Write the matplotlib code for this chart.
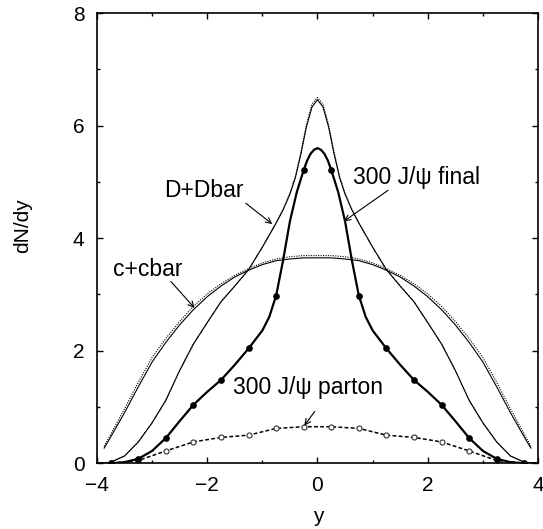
import matplotlib
matplotlib.use('Agg')
import matplotlib.pyplot as plt
import numpy as np

plt.rcParams['font.family'] = ['Liberation Sans', 'DejaVu Sans']

# D + Dbar (thin solid, with a dotted twin)
dd_x = [-3.85, -3.75, -3.5, -3.25, -3.0, -2.75, -2.5, -2.25, -2.0, -1.75, -1.5, -1.25, -1.0, -0.75, -0.625, -0.5, -0.4, -0.3, -0.2, -0.1, 0.0,
        0.1, 0.2, 0.3, 0.4, 0.5, 0.625, 0.75, 1.0, 1.25, 1.5, 1.75, 2.0, 2.25, 2.5, 2.75, 3.0, 3.25, 3.5, 3.75, 3.85]
dd_y = [0.0, 0.02, 0.13, 0.38, 0.72, 1.12, 1.65, 2.12, 2.5, 2.87, 3.15, 3.44, 3.84, 4.27, 4.5, 4.78, 5.08, 5.5, 5.98, 6.33, 6.46,
        6.33, 5.98, 5.5, 5.08, 4.78, 4.5, 4.27, 3.84, 3.44, 3.15, 2.87, 2.5, 2.12, 1.65, 1.12, 0.72, 0.38, 0.13, 0.02, 0.0]
dd_dot_y = [0.0, 0.02, 0.13, 0.38, 0.72, 1.12, 1.65, 2.12, 2.5, 2.87, 3.15, 3.44, 3.84, 4.27, 4.51, 4.8, 5.1, 5.53, 6.02, 6.38, 6.5,
            6.38, 6.02, 5.53, 5.1, 4.8, 4.51, 4.27, 3.84, 3.44, 3.15, 2.87, 2.5, 2.12, 1.65, 1.12, 0.72, 0.38, 0.13, 0.02, 0.0]

# c + cbar (thin solid, with a dotted twin)
cc_x = [-3.87, -3.75, -3.5, -3.25, -3.0, -2.75, -2.5, -2.25, -2.0, -1.75, -1.5, -1.25, -1.0, -0.75, -0.5, -0.25, 0.0,
        0.25, 0.5, 0.75, 1.0, 1.25, 1.5, 1.75, 2.0, 2.25, 2.5, 2.75, 3.0, 3.25, 3.5, 3.75, 3.87]
cc_y = [0.27, 0.47, 0.9, 1.36, 1.8, 2.15, 2.46, 2.73, 2.96, 3.15, 3.31, 3.43, 3.53, 3.6, 3.63, 3.65, 3.65,
        3.65, 3.63, 3.6, 3.53, 3.43, 3.31, 3.15, 2.96, 2.73, 2.46, 2.15, 1.8, 1.36, 0.9, 0.47, 0.27]
cc_dot_y = [0.3, 0.52, 0.97, 1.44, 1.88, 2.22, 2.52, 2.79, 3.01, 3.19, 3.34, 3.46, 3.56, 3.63, 3.67, 3.69, 3.69,
            3.69, 3.67, 3.63, 3.56, 3.46, 3.34, 3.19, 3.01, 2.79, 2.52, 2.22, 1.88, 1.44, 0.97, 0.52, 0.3]

# 300 J/psi final (thick solid curve + filled markers)
jf_x = [-4.0, -3.75, -3.5, -3.25, -3.0, -2.75, -2.5, -2.25, -2.0, -1.75, -1.5, -1.25, -1.0, -0.875, -0.75, -0.625, -0.5, -0.375,
        -0.25, -0.1875, -0.125, -0.0625, 0.0, 0.0625, 0.125, 0.1875, 0.25, 0.375, 0.5, 0.625, 0.75, 0.875, 1.0, 1.25, 1.5,
        1.75, 2.0, 2.25, 2.5, 2.75, 3.0, 3.25, 3.5, 3.75, 4.0]
jf_y = [0.0, 0.0, 0.02, 0.08, 0.22, 0.45, 0.75, 1.04, 1.27, 1.48, 1.75, 2.04, 2.36, 2.6, 2.98, 3.6, 4.3, 4.82,
        5.21, 5.38, 5.5, 5.57, 5.6, 5.57, 5.5, 5.38, 5.21, 4.82, 4.3, 3.6, 2.98, 2.6, 2.36, 2.04, 1.75,
        1.48, 1.27, 1.04, 0.75, 0.45, 0.22, 0.08, 0.02, 0.0, 0.0]
jf_mark_x = [-3.75, -3.25, -2.75, -2.25, -1.75, -1.25, -0.75, -0.25, 0.25, 0.75, 1.25, 1.75, 2.25, 2.75, 3.25, 3.75]
jf_mark_y = [0.0, 0.08, 0.45, 1.04, 1.48, 2.04, 2.98, 5.21, 5.21, 2.98, 2.04, 1.48, 1.04, 0.45, 0.08, 0.0]

# 300 J/psi parton (dashed + open circles)
jp_x = [-3.75, -3.25, -2.75, -2.25, -1.75, -1.25, -0.75, -0.25, 0.25, 0.75, 1.25, 1.75, 2.25, 2.75, 3.25, 3.75]
jp_y = [0.0, 0.05, 0.22, 0.38, 0.46, 0.5, 0.62, 0.65, 0.65, 0.62, 0.5, 0.46, 0.38, 0.22, 0.05, 0.0]

fig = plt.figure(figsize=(5.43, 5.29), dpi=100)
ax = fig.add_axes([0.1786, 0.1242, 0.8122, 0.8512])

ax.plot(cc_x, cc_dot_y, color='black', lw=0.8, ls=(0, (1, 1.2)))
ax.plot(cc_x, cc_y, color='black', lw=0.8)
ax.plot(dd_x, dd_dot_y, color='black', lw=0.8, ls=(0, (1, 1.2)))
ax.plot(dd_x, dd_y, color='black', lw=0.8)
ax.plot(jp_x, jp_y, color='black', lw=1.1, ls=(0, (2.5, 1.5)))
ax.plot(jp_x, jp_y, ls='none', marker='o', ms=3.6, mfc='white', mec='#444444', mew=0.9)
ax.plot(jf_x, jf_y, color='black', lw=1.6)
ax.plot(jf_mark_x, jf_mark_y, ls='none', marker='o', ms=3.8, color='black')

ax.set_xlim(-4, 4)
ax.set_ylim(0, 8)
ax.set_xticks([-4, -2, 0, 2, 4])
ax.set_xticks([-3, -1, 1, 3], minor=True)
ax.set_yticks([0, 2, 4, 6, 8])
ax.set_yticks([1, 3, 5, 7], minor=True)
ax.tick_params(which='both', direction='in', top=True, right=True, labelsize=15, width=1.0)
ax.tick_params(which='major', length=4, pad=9)
ax.tick_params(which='minor', length=2.5)
for sp in ax.spines.values():
    sp.set_linewidth(1.2)

arrow = dict(arrowstyle='->', color='black', lw=0.8, shrinkA=0, shrinkB=0)
ax.annotate('', xy=(-0.82, 4.25), xytext=(-1.3, 4.62), arrowprops=arrow)
ax.text(-2.07, 4.85, 'D+Dbar', fontsize=16.5, ha='center', va='center')
ax.annotate('', xy=(-2.23, 2.76), xytext=(-2.66, 3.23), arrowprops=arrow)
ax.text(-3.08, 3.44, 'c+cbar', fontsize=16.5, ha='center', va='center')
ax.annotate('', xy=(0.48, 4.3), xytext=(1.28, 4.85), arrowprops=arrow)
ax.text(1.8, 5.07, '300 J/\u03c8 final', fontsize=16.5, ha='center', va='center')
ax.annotate('', xy=(-0.24, 0.67), xytext=(-0.05, 0.92), arrowprops=arrow)
ax.text(-0.18, 1.34, '300 J/\u03c8 parton', fontsize=16.5, ha='center', va='center')

fig.text(22.5 / 543, 1 - 226 / 529, 'dN/dy', fontsize=15, rotation=90, ha='center', va='center')
fig.text(318 / 543, 1 - 516 / 529, 'y', fontsize=15, ha='center', va='center')

fig.savefig('out.png', dpi=100)
